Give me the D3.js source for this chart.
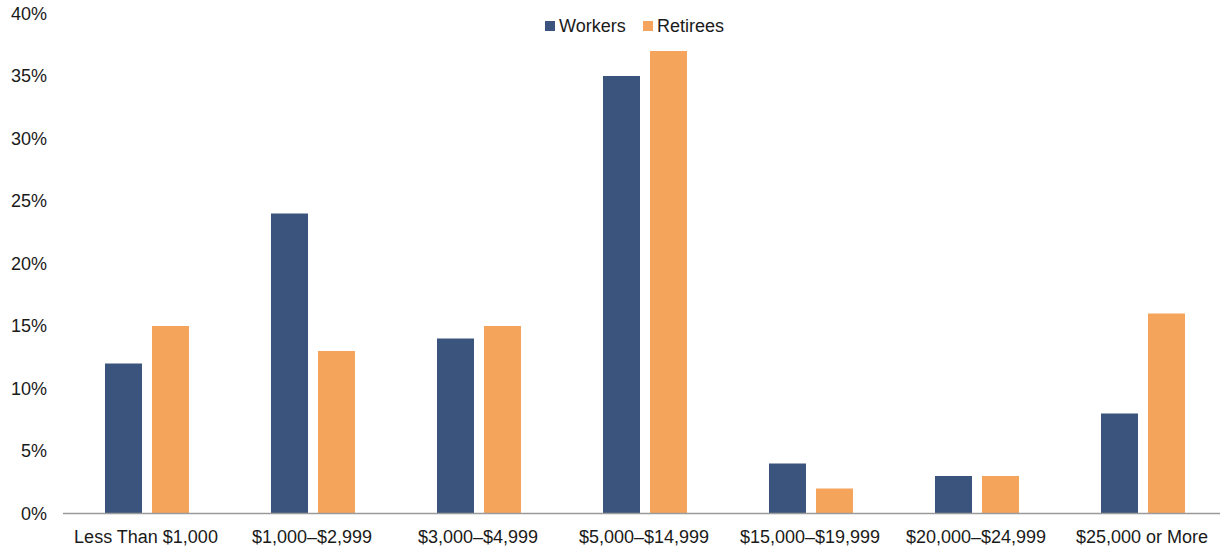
<!DOCTYPE html>
<html lang="en">
<head>
    <meta charset="UTF-8">
    <title>Workers vs Retirees</title>
    <script src="https://d3js.org/d3.v7.min.js"></script>
    <style>
        body { margin: 0; background: #fff; }
        text { font-family: "Liberation Sans", Arial, sans-serif; fill: #1a1a1a; }
    </style>
</head>
<body>
    <div id="chart"></div>
    <script>
        // chart data
        const categories = ["Less Than $1,000", "$1,000\u2013$2,999", "$3,000\u2013$4,999",
            "$5,000\u2013$14,999", "$15,000\u2013$19,999", "$20,000\u2013$24,999", "$25,000 or More"];
        const seriesNames = ["Workers", "Retirees"];
        const workers = [12, 24, 14, 35, 4, 3, 8];
        const retirees = [15, 13, 15, 37, 2, 3, 16];
        const yTicks = [0, 5, 10, 15, 20, 25, 30, 35, 40];
        const colors = ["#3a547d", "#f4a45b"];

        const width = 1220, height = 548;
        const margin = {top: 13.5, right: -5, bottom: 34.5, left: 63};

        const svg = d3.select("#chart").append("svg")
            .attr("width", width)
            .attr("height", height);

        const x0 = d3.scaleBand()
            .domain(categories)
            .range([margin.left, width - margin.right])
            .padding(0);

        const bw = x0.bandwidth();
        const x1 = d3.scaleBand()
            .domain(seriesNames)
            .range([bw * 0.253, bw * 0.759])
            .paddingInner(0.213)
            .paddingOuter(0);

        const y = d3.scaleLinear()
            .domain([0, 40])
            .range([height - margin.bottom, margin.top]);

        // y tick labels
        svg.append("g")
            .selectAll("text")
            .data(yTicks)
            .join("text")
            .attr("x", 47)
            .attr("y", d => y(d))
            .attr("dy", "0.35em")
            .attr("text-anchor", "end")
            .attr("font-size", "18px")
            .text(d => d + "%");

        // bars
        const rows = categories.map((c, i) => ({cat: c, vals: [workers[i], retirees[i]]}));
        const groups = svg.append("g")
            .selectAll("g")
            .data(rows)
            .join("g")
            .attr("transform", d => `translate(${x0(d.cat)},0)`);

        groups.selectAll("rect")
            .data(d => d.vals.map((v, j) => ({name: seriesNames[j], v: v, j: j})))
            .join("rect")
            .attr("x", d => x1(d.name))
            .attr("y", d => y(d.v))
            .attr("width", x1.bandwidth())
            .attr("height", d => y(0) - y(d.v))
            .attr("fill", d => colors[d.j]);

        // x axis line
        svg.append("line")
            .attr("x1", margin.left)
            .attr("x2", width)
            .attr("y1", y(0))
            .attr("y2", y(0))
            .attr("stroke", "#9a9a9a")
            .attr("stroke-width", 1.5);

        // category labels
        svg.append("g")
            .selectAll("text")
            .data(categories)
            .join("text")
            .attr("x", d => x0(d) + bw / 2)
            .attr("y", 537)
            .attr("dy", "0.35em")
            .attr("text-anchor", "middle")
            .attr("font-size", "18px")
            .text(d => d);

        // legend
        const legendX = [545, 643];
        const legend = svg.append("g")
            .selectAll("g")
            .data(seriesNames)
            .join("g")
            .attr("transform", (d, i) => `translate(${legendX[i]},21)`);
        legend.append("rect")
            .attr("width", 10)
            .attr("height", 10)
            .attr("fill", (d, i) => colors[i]);
        legend.append("text")
            .attr("x", 14)
            .attr("y", 5)
            .attr("dy", "0.35em")
            .attr("font-size", "18px")
            .text(d => d);
    </script>
</body>
</html>
